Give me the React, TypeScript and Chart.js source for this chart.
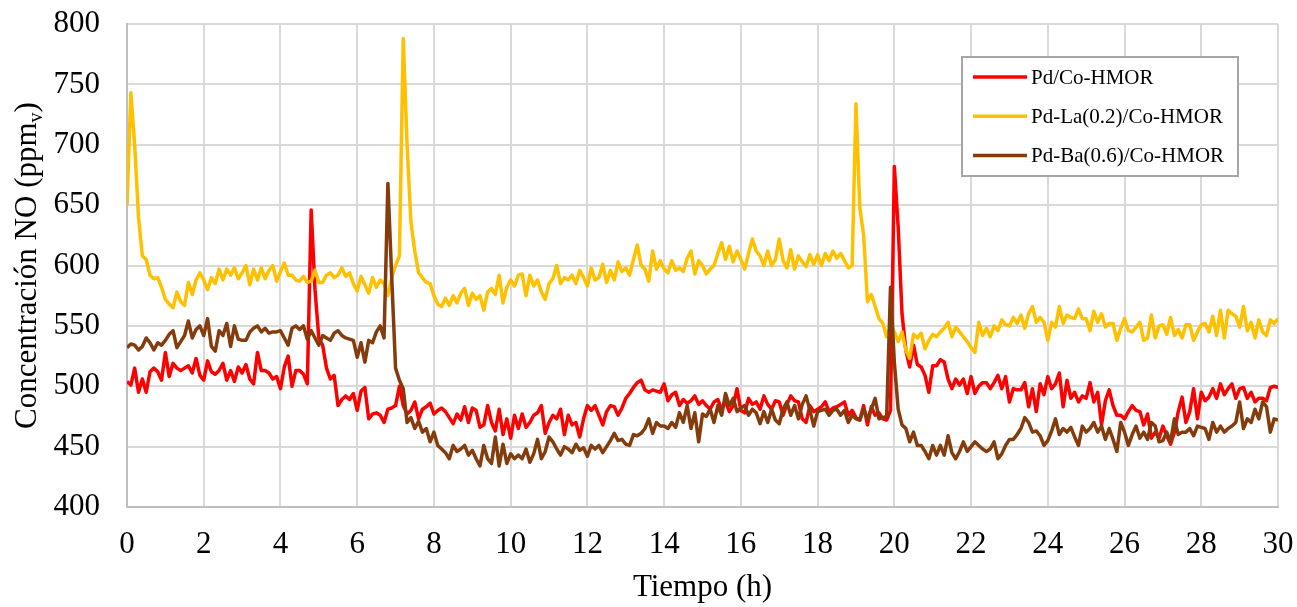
import React, { useEffect, useRef } from 'react';
import { Chart, registerables } from 'chart.js';

Chart.register(...registerables);

// Sampling interval of the measurements (hours)
const TIME_STEP_H = 0.1;

const SERIES_LABELS = ['Pd/Co-HMOR', 'Pd-La(0.2)/Co-HMOR', 'Pd-Ba(0.6)/Co-HMOR'];
const SERIES_COLORS = ['#FF0000', '#FFC000', '#843C0C'];

// Pd/Co-HMOR (ppmv), every 0.1 h from 0 to 30 h
const PD_CO = [
  504, 501, 515, 495, 506, 495, 512, 515, 512, 505,
  528, 508, 519, 515, 513, 515, 517, 511, 523, 509,
  505, 521, 512, 510, 513, 519, 505, 513, 504, 516,
  511, 518, 506, 502, 528, 513, 513, 511, 506, 508,
  498, 516, 525, 500, 513, 513, 510, 502, 646, 580,
  540, 534, 515, 506, 509, 484, 489, 492, 489, 494,
  480, 496, 499, 473, 477, 478, 476, 470, 481, 482,
  484, 500, 484, 477, 480, 487, 473, 481, 483, 486,
  477, 480, 482, 479, 474, 469, 477, 472, 483, 470,
  482, 480, 466, 468, 484, 470, 463, 481, 460, 473,
  457, 476, 465, 477, 466, 470, 476, 478, 484, 461,
  470, 476, 473, 481, 460, 476, 468, 470, 458, 473,
  484, 480, 484, 476, 468, 479, 484, 483, 476, 482,
  490, 494, 499, 503, 505, 497, 495, 497, 496, 495,
  502, 488, 493, 495, 484, 489, 486, 488, 492, 485,
  488, 484, 481, 487, 489, 481, 487, 479, 484, 498,
  480, 478, 490, 485, 487, 481, 492, 485, 481, 488,
  487, 476, 485, 492, 488, 487, 473, 470, 484, 479,
  481, 483, 487, 479, 482, 483, 485, 487, 476, 480,
  474, 472, 484, 468, 483, 476, 478, 473, 472, 480,
  682, 632, 560, 530, 516, 534, 518, 516, 509, 495,
  517, 517, 522, 520, 506, 498, 506, 501, 506, 494,
  508, 494, 500, 503, 503, 498, 503, 509, 498, 508,
  487, 498, 497, 497, 503, 483, 498, 479, 502, 493,
  508, 498, 502, 511, 483, 505, 490, 495, 487, 492,
  490, 503, 487, 495, 468, 488, 497, 484, 476, 476,
  473, 479, 484, 480, 479, 468, 477, 457, 462, 457,
  467, 459, 452, 462, 479, 491, 470, 479, 498, 473,
  495, 488, 491, 498, 490, 502, 493, 498, 502, 490,
  498, 499, 490, 495, 487, 490, 490, 488, 499, 500,
  499,
];

// Pd-La(0.2)/Co-HMOR (ppmv)
const PD_LA = [
  650, 743, 700, 640, 608, 605, 592, 589, 590, 582,
  572, 568, 565, 578, 570, 567, 586, 576, 588, 594,
  588, 580, 590, 585, 597, 588, 597, 592, 598, 589,
  594, 600, 584, 597, 588, 598, 589, 596, 600, 587,
  595, 602, 592, 592, 588, 587, 591, 586, 587, 596,
  586, 586, 592, 594, 590, 592, 598, 591, 594, 585,
  579, 591, 584, 577, 590, 582, 588, 585, 575, 590,
  600, 608, 788, 700, 636, 612, 594, 590, 586, 585,
  575, 568, 566, 573, 567, 575, 569, 577, 581, 567,
  577, 572, 575, 563, 578, 581, 576, 592, 569, 582,
  588, 583, 592, 593, 575, 592, 583, 588, 578, 572,
  585, 589, 600, 585, 590, 588, 592, 585, 596, 590,
  583, 598, 588, 590, 601, 586, 596, 588, 603, 595,
  598, 592, 605, 617, 600, 597, 587, 612, 597, 604,
  597, 594, 604, 596, 598, 595, 606, 612, 593, 604,
  600, 593, 597, 600, 610, 619, 605, 616, 603, 612,
  605, 597, 610, 622, 612, 608, 600, 612, 600, 605,
  622, 604, 598, 613, 597, 608, 603, 599, 609, 601,
  609, 600, 610, 604, 612, 606, 610, 604, 598, 600,
  734, 648, 625, 570, 576, 566, 556, 552, 541, 550,
  545, 537, 545, 530, 523, 543, 540, 544, 531, 538,
  543, 541, 545, 548, 553, 541, 549, 545, 541, 537,
  532, 528, 553, 542, 548, 541, 550, 546, 555, 551,
  550, 557, 552, 559, 548, 560, 566, 553, 557, 553,
  538, 553, 549, 566, 552, 559, 557, 556, 564, 556,
  556, 546, 562, 553, 560, 549, 552, 552, 538, 548,
  556, 546, 545, 549, 553, 538, 540, 559, 540, 550,
  551, 543, 557, 542, 547, 540, 551, 551, 538, 545,
  551, 552, 545, 558, 542, 563, 540, 563, 560, 558,
  549, 566, 546, 553, 540, 555, 545, 542, 555, 552,
  556,
];

// Pd-Ba(0.6)/Co-HMOR (ppmv)
const PD_BA = [
  532, 535, 534, 530, 533, 540, 536, 530, 536, 534,
  538, 543, 546, 532, 537, 542, 554, 540, 547, 550,
  542, 556, 533, 529, 546, 542, 552, 533, 550, 539,
  538, 538, 545, 548, 550, 545, 548, 544, 545, 545,
  546, 540, 534, 548, 550, 547, 550, 539, 546, 540,
  534, 542, 540, 538, 544, 546, 542, 540, 539, 538,
  524, 536, 520, 538, 536, 545, 550, 540, 668, 590,
  515, 505, 498, 470, 474, 465, 471, 462, 465, 454,
  462, 451, 448, 445, 440, 451, 446, 448, 451, 443,
  447, 440, 434, 451, 440, 436, 458, 434, 452, 436,
  444, 440, 443, 440, 448, 437, 444, 456, 440, 446,
  458, 454, 448, 443, 450, 448, 445, 452, 447, 449,
  442, 451, 448, 451, 445, 450, 455, 461, 455, 456,
  452, 451, 460, 459, 461, 465, 473, 461, 470, 467,
  467, 465, 470, 466, 478, 470, 484, 465, 478, 454,
  477, 475, 481, 470, 484, 476, 494, 484, 490, 479,
  482, 484, 476, 481, 478, 469, 479, 470, 481, 472,
  469, 481, 487, 476, 484, 473, 485, 492, 480, 467,
  479, 480, 481, 476, 480, 481, 476, 480, 470, 476,
  473, 472, 481, 473, 481, 490, 473, 474, 475, 582,
  520, 481, 468, 465, 454, 462, 451, 451, 446, 440,
  451, 443, 451, 443, 459, 445, 440, 446, 454, 446,
  450, 454, 451, 448, 446, 448, 454, 440, 444, 451,
  456, 456, 460, 465, 474, 470, 462, 463, 459, 451,
  455, 463, 473, 460, 465, 462, 466, 458, 451, 467,
  462, 465, 470, 462, 467, 456, 465, 456, 446, 470,
  462, 451, 460, 467, 457, 462, 456, 470, 467, 454,
  455, 462, 454, 473, 460, 462, 462, 465, 459, 467,
  466, 465, 456, 470, 462, 467, 462, 465, 467, 470,
  487, 465, 473, 470, 481, 473, 487, 483, 462, 473,
  472,
];

const X_AXIS = { min: 0, max: 30, step: 2, title: 'Tiempo (h)' };
const Y_AXIS = { min: 400, max: 800, step: 50, titleMain: 'Concentración NO (ppm', titleSub: 'v', titleEnd: ')' };

const SERIF = "'Liberation Serif', 'Times New Roman', serif";

function toPoints(values: number[]) {
  return values.map((v, i) => ({ x: Math.round(i * TIME_STEP_H * 10) / 10, y: v }));
}

const yTitlePlugin = {
  id: 'yTitleSub',
  afterDraw(chart: any) {
    const { ctx, chartArea } = chart;
    const mainFont = `31px ${SERIF}`;
    const subFont = `20px ${SERIF}`;
    ctx.save();
    ctx.font = mainFont;
    const w1 = ctx.measureText(Y_AXIS.titleMain).width;
    const w3 = ctx.measureText(Y_AXIS.titleEnd).width;
    ctx.font = subFont;
    const w2 = ctx.measureText(Y_AXIS.titleSub).width;
    const total = w1 + w2 + w3;
    const cy = (chartArea.top + chartArea.bottom) / 2;
    ctx.translate(36, cy);
    ctx.rotate(-Math.PI / 2);
    ctx.fillStyle = '#000';
    ctx.textBaseline = 'alphabetic';
    ctx.textAlign = 'left';
    let x = -total / 2;
    ctx.font = mainFont;
    ctx.fillText(Y_AXIS.titleMain, x, 0);
    x += w1;
    ctx.font = subFont;
    ctx.fillText(Y_AXIS.titleSub, x, 6);
    x += w2;
    ctx.font = mainFont;
    ctx.fillText(Y_AXIS.titleEnd, x, 0);
    ctx.restore();
  },
};

const boxLegendPlugin = {
  id: 'boxLegend',
  afterDatasetsDraw(chart: any) {
    const { ctx, chartArea } = chart;
    const bx = chartArea.right - 316;
    const by = chartArea.top + 33;
    const bw = 276;
    const bh = 119;
    ctx.save();
    ctx.fillStyle = '#ffffff';
    ctx.fillRect(bx, by, bw, bh);
    ctx.strokeStyle = '#a6a6a6';
    ctx.lineWidth = 2;
    ctx.strokeRect(bx, by, bw, bh);
    ctx.font = `21px ${SERIF}`;
    ctx.textBaseline = 'alphabetic';
    ctx.textAlign = 'left';
    SERIES_LABELS.forEach((label, i) => {
      const ly = by + 20 + i * 39.2;
      ctx.strokeStyle = SERIES_COLORS[i];
      ctx.lineWidth = 3.5;
      ctx.beginPath();
      ctx.moveTo(bx + 11, ly);
      ctx.lineTo(bx + 65, ly);
      ctx.stroke();
      ctx.fillStyle = '#000';
      ctx.fillText(label, bx + 69, ly + 7);
    });
    ctx.restore();
  },
};

export default function App() {
  const canvasRef = useRef<HTMLCanvasElement | null>(null);

  useEffect(() => {
    document.body.style.margin = '0';
    const canvas = canvasRef.current;
    if (!canvas) return;
    const tickFont = { family: SERIF, size: 31 };
    const gridColor = '#d9d9d9';
    const series = [PD_CO, PD_LA, PD_BA];
    const chart = new Chart(canvas, {
      type: 'line',
      data: {
        datasets: series.map((values, i) => ({
          label: SERIES_LABELS[i],
          data: toPoints(values),
          borderColor: SERIES_COLORS[i],
          backgroundColor: SERIES_COLORS[i],
          borderWidth: 3.5,
          pointRadius: 0,
          tension: 0,
          fill: false,
          borderJoinStyle: 'round' as const,
          order: 2 - i,
        })),
      },
      options: {
        responsive: false,
        animation: false,
        devicePixelRatio: 1,
        layout: { padding: { left: 0, right: 19, top: 24, bottom: 0 } },
        plugins: {
          legend: { display: false },
          tooltip: { enabled: false },
        },
        scales: {
          x: {
            type: 'linear',
            min: X_AXIS.min,
            max: X_AXIS.max,
            ticks: { stepSize: X_AXIS.step, font: tickFont, color: '#000', padding: 19, maxRotation: 0, autoSkip: false },
            grid: { color: gridColor, lineWidth: 2, drawTicks: false },
            border: { color: '#bfbfbf', width: 2 },
            title: { display: true, text: X_AXIS.title, font: tickFont, color: '#000', padding: { top: 0, bottom: 1 } },
            afterFit: (s: any) => {
              s.height = 100;
              s.paddingLeft = 0;
              s.paddingRight = 0;
            },
          },
          y: {
            type: 'linear',
            min: Y_AXIS.min,
            max: Y_AXIS.max,
            ticks: { stepSize: Y_AXIS.step, font: tickFont, color: '#000', padding: 27 },
            grid: { color: gridColor, lineWidth: 2, drawTicks: false },
            border: { color: '#bfbfbf', width: 2 },
            afterFit: (s: any) => {
              s.width = 127;
              s.paddingTop = 0;
              s.paddingBottom = 0;
            },
          },
        },
      },
      plugins: [boxLegendPlugin, yTitlePlugin],
    });
    return () => chart.destroy();
  }, []);

  return (
    <div style={{ width: 1297, height: 607 }}>
      <canvas ref={canvasRef} width={1297} height={607} style={{ display: 'block', width: 1297, height: 607 }} />
    </div>
  );
}
